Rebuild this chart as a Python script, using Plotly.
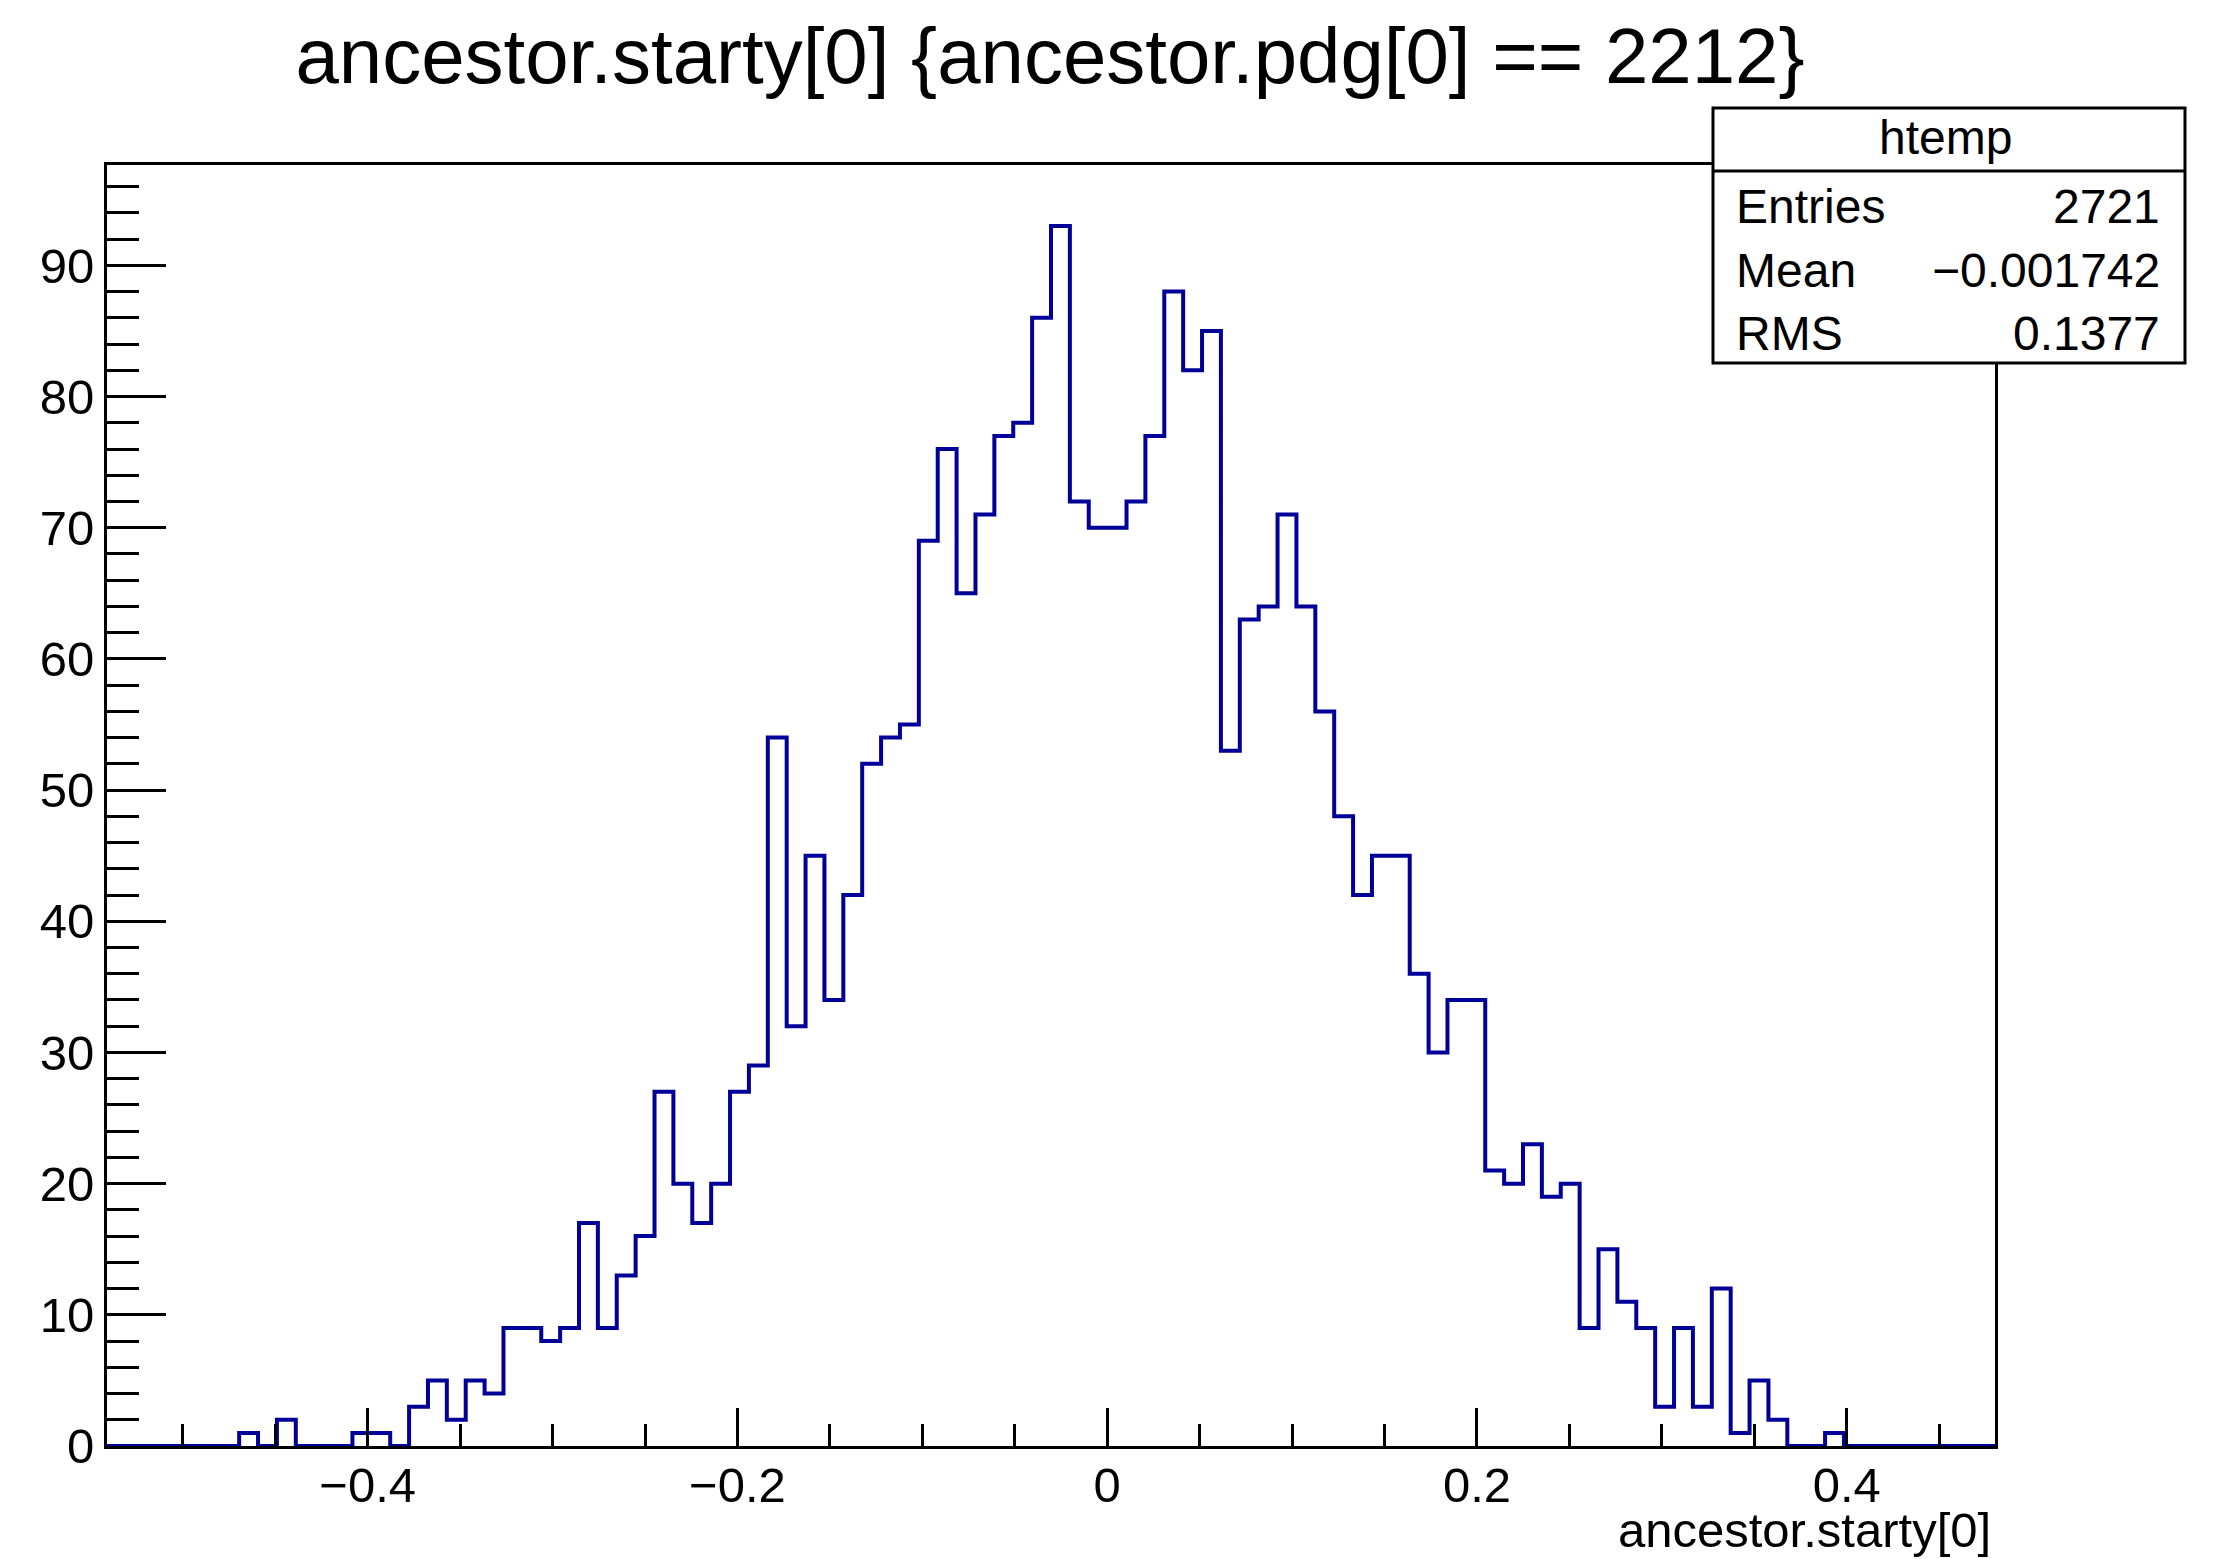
import plotly.graph_objects as go

# ---------------- data ----------------
x_min = -0.541
x_max = 0.4802
n_bins = 100
counts = [
    0, 0, 0, 0, 0, 0, 0, 1, 0, 2,
    0, 0, 0, 1, 1, 0, 3, 5, 2, 5,
    4, 9, 9, 8, 9, 17, 9, 13, 16, 27,
    20, 17, 20, 27, 29, 54, 32, 45, 34, 42,
    52, 54, 55, 69, 76, 65, 71, 77, 78, 86,
    93, 72, 70, 70, 72, 77, 88, 82, 85, 53,
    63, 64, 71, 64, 56, 48, 42, 45, 45, 36,
    30, 34, 34, 21, 20, 23, 19, 20, 9, 15,
    11, 9, 3, 9, 3, 12, 1, 5, 2, 0,
    0, 1, 0, 0, 0, 0, 0, 0, 0, 0,
]
title_text = "ancestor.starty[0] {ancestor.pdg[0] == 2212}"
x_title = "ancestor.starty[0]"
stats_name = "htemp"
stats_labels = ["Entries", "Mean", "RMS"]
stats_values = ["2721", "\u22120.001742", "0.1377"]

# ---------------- layout constants ----------------
W, H = 2213, 1559
ML, MR, MT, MB = 107, 218, 165, 113
PW = W - ML - MR
PH = H - MT - MB
FONT = "Liberation Sans, Arial, Helvetica, sans-serif"
y_max = max(counts) * 1.05

bw = (x_max - x_min) / n_bins
edges = [x_min + i * bw for i in range(n_bins + 1)]
xs = [x_min] + edges
ys = [0] + counts + [counts[-1]]

fig = go.Figure()
fig.add_trace(go.Scatter(
    x=xs, y=ys, mode="lines", line_shape="hv",
    line=dict(color="#000099", width=4),
    hoverinfo="skip", showlegend=False,
))


def px2paper_x(px):
    return (px - ML) / PW


def px2paper_y(py):
    return (H - MB - py) / PH


axis_common = dict(
    showgrid=False, zeroline=False, showline=True, linecolor="black",
    linewidth=3, mirror=True, ticks="inside", tickcolor="black",
    tickwidth=3, tickfont=dict(family=FONT, size=49, color="black"),
)

fig.update_xaxes(
    range=[x_min, x_max], tick0=0, dtick=0.2, ticklen=38,
    ticklabelstandoff=-6,
    minor=dict(dtick=0.05, tick0=0, ticklen=22, ticks="inside",
               tickcolor="black", tickwidth=3),
    **axis_common,
)
fig.update_yaxes(
    range=[0, y_max], tick0=0, dtick=10, ticklen=59,
    minor=dict(dtick=2, tick0=0, ticklen=32, ticks="inside",
               tickcolor="black", tickwidth=3),
    **axis_common,
)

# stats box
bx0, bx1, by0, by1, bdiv = 1713, 2185, 108, 363, 171
shapes = [
    dict(type="rect", xref="paper", yref="paper",
         x0=px2paper_x(bx0), x1=px2paper_x(bx1),
         y0=px2paper_y(by1), y1=px2paper_y(by0),
         line=dict(color="black", width=3), fillcolor="white", layer="above"),
    dict(type="line", xref="paper", yref="paper",
         x0=px2paper_x(bx0), x1=px2paper_x(bx1),
         y0=px2paper_y(bdiv), y1=px2paper_y(bdiv),
         line=dict(color="black", width=3), layer="above"),
]

annotations = [
    dict(text=stats_name, xref="paper", yref="paper",
         x=px2paper_x(1945), y=px2paper_y(138), xanchor="center", yanchor="middle",
         showarrow=False, font=dict(family=FONT, size=48, color="black")),
]
row_y = [206, 270, 333]
for lab, val, ry in zip(stats_labels, stats_values, row_y):
    annotations.append(dict(text=lab, xref="paper", yref="paper",
                            x=px2paper_x(1734), y=px2paper_y(ry),
                            xanchor="left", yanchor="middle", showarrow=False,
                            font=dict(family=FONT, size=48, color="black")))
    annotations.append(dict(text=val, xref="paper", yref="paper",
                            x=px2paper_x(2162), y=px2paper_y(ry),
                            xanchor="right", yanchor="middle", showarrow=False,
                            font=dict(family=FONT, size=48, color="black")))

annotations.append(dict(text=x_title, xref="paper", yref="paper",
                        x=px2paper_x(1993), y=px2paper_y(1530),
                        xanchor="right", yanchor="middle", showarrow=False,
                        font=dict(family=FONT, size=49, color="black")))

fig.update_layout(
    width=W, height=H,
    margin=dict(l=ML, r=MR, t=MT, b=MB, pad=0),
    paper_bgcolor="white", plot_bgcolor="white",
    title=dict(text=title_text, x=1050 / W, y=1 - 56 / H,
               xanchor="center", yanchor="middle",
               font=dict(family=FONT, size=78, color="black")),
    shapes=shapes, annotations=annotations,
)

fig.write_html("out.html")
